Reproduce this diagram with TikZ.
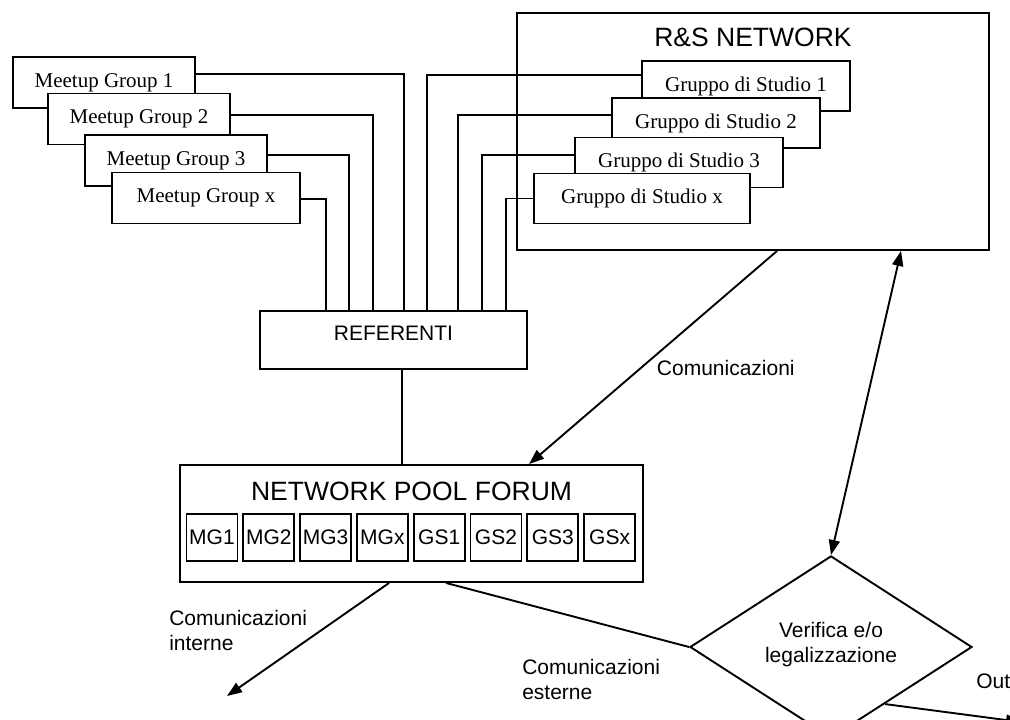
\documentclass[tikz,border=0pt]{standalone}
\usepackage{fontspec}
\setmainfont{Liberation Sans}
\newfontfamily\timesfont{Liberation Serif}
\usetikzlibrary{shapes.geometric, arrows.meta, calc}

\begin{document}
\begin{tikzpicture}[x=1pt, y=-1pt, line width=1.9pt, font=\fontsize{21}{25}\selectfont,
	box/.style = {draw, fill=white, inner sep=0pt},
	group/.style = {box, minimum width=182pt, minimum height=51pt, font=\timesfont\fontsize{21}{25}\selectfont},
	study/.style = {box, minimum width=208pt, minimum height=50pt, font=\timesfont\fontsize{21}{25}\selectfont},
	cell/.style = {box, minimum width=51pt, minimum height=47pt},
	title/.style = {font=\fontsize{26.5}{30}\selectfont},
	tip/.style = {-{Triangle[length=15pt, width=11pt]}},
	both/.style = {{Triangle[length=15pt, width=11pt]}-{Triangle[length=15pt, width=11pt]}}]
	\useasboundingbox (0,0) rectangle (1010,720);
	\clip (0,0) rectangle (1010,720);

	\node[box, minimum width=472pt, minimum height=237pt] (rs) at (753,131.5) {};
	\node[title] at ([yshift=-25pt]rs.north) {R\&S NETWORK};
	\node[study] (gs1) at (746,86) {Gruppo di Studio 1};
	\node[study] (gs2) at (716,123) {Gruppo di Studio 2};
	\node[study] (gs3) at (679,162.5) {Gruppo di Studio 3};
	\node[study, minimum width=216pt] (gsx) at (642,198.5) {Gruppo di Studio x};

	\node[group] (mg1) at (104,82.5) {Meetup Group 1};
	\node[group] (mg2) at (139,119) {Meetup Group 2};
	\node[group] (mg3) at (176,160.5) {Meetup Group 3};
	\node[group, minimum width=188pt] (mgx) at (206,198) {Meetup Group x};

	\node[box, minimum width=267pt, minimum height=58pt, text depth=14pt] (ref) at (393.5,340) {REFERENTI};

	\node[box, minimum width=463pt, minimum height=117pt] (npf) at (411.5,523.5) {};
	\node[title] at ([yshift=-27pt]npf.north) {NETWORK POOL FORUM};
	\foreach \lbl [count=\i] in {MG1,MG2,MG3,MGx,GS1,GS2,GS3,GSx}
		\node[cell] (c\i) at (155.2+56.8*\i, 537.5) {\lbl};

	\node[diamond, draw, fill=white, minimum width=282pt, minimum height=134pt, inner sep=0pt, align=center, text depth=10pt] (check) at (831,647) {Verifica e/o\\legalizzazione};

	\draw ([yshift=8.5pt]mg1.east) -| ([xshift=145pt]ref.north west);
	\draw ([yshift=4pt]mg2.east) -| ([xshift=114pt]ref.north west);
	\draw ([yshift=5.5pt]mg3.east) -| ([xshift=90pt]ref.north west);
	\draw ([yshift=-1pt]mgx.east) -| ([xshift=67pt]ref.north west);
	\draw ([yshift=11pt]gs1.west) -| ([xshift=168pt]ref.north west);
	\draw ([yshift=8pt]gs2.west) -| ([xshift=199pt]ref.north west);
	\draw ([yshift=7.5pt]gs3.west) -| ([xshift=223pt]ref.north west);
	\draw (gsx.west) -| ([xshift=247pt]ref.north west);

	\draw ([xshift=8.5pt]ref.south) -- ([xshift=8.5pt]ref.south |- npf.north);
	\draw[tip] ([xshift=261pt]rs.south west) -- ([xshift=350pt]npf.north west)
		node[pos=0.55, anchor=west, xshift=12pt] {Comunicazioni};
	\draw[both] ([xshift=385pt]rs.south west) -- (check.north);

	\coordinate (inner) at (227,696);
	\draw[tip] ([xshift=210pt]npf.south west) -- (inner);
	\node[align=left, anchor=west] at (165,630) {Comunicazioni\\interne};

	\draw ([xshift=267pt]npf.south west) -- (check.west);
	\node[align=left, anchor=west] at (518,679) {Comunicazioni\\esterne};

	\coordinate (out) at (1021,722);
	\draw[tip] ($(check.east)!0.62!(check.south)$) -- (out);
	\node[anchor=west] at (972,683) {Output};
\end{tikzpicture}
\end{document}
